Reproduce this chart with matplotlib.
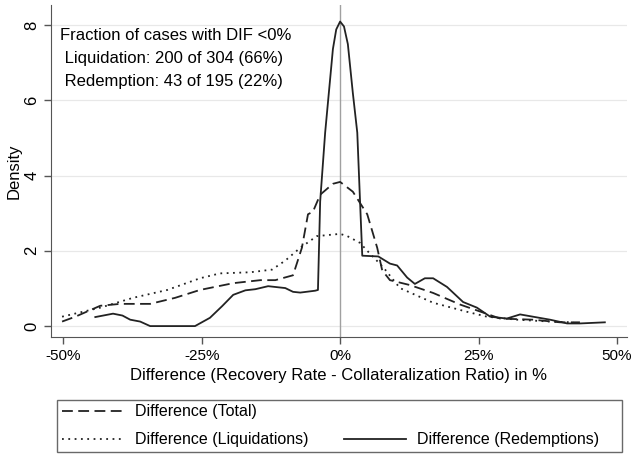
import numpy as np
import matplotlib.pyplot as plt

plt.rcParams['font.family'] = ['Liberation Sans', 'DejaVu Sans']

# density curves (x as fraction, y density)
red_x = [-0.442, -0.410, -0.393, -0.379, -0.361, -0.343, -0.262, -0.235, -0.213, -0.193,
         -0.171, -0.153, -0.130, -0.099, -0.085, -0.072, -0.045, -0.040, -0.036, -0.027,
         -0.013, -0.007, 0.0, 0.007, 0.014, 0.023, 0.031, 0.036, 0.040, 0.069, 0.090,
         0.103, 0.121, 0.135, 0.153, 0.168, 0.193, 0.222, 0.247, 0.271, 0.301, 0.325,
         0.348, 0.379, 0.410, 0.433, 0.478]
red_y = [0.24, 0.33, 0.28, 0.17, 0.12, 0.0, 0.0, 0.22, 0.53, 0.83,
         0.95, 0.98, 1.06, 1.01, 0.91, 0.89, 0.94, 0.96, 3.31, 5.14,
         7.36, 7.88, 8.09, 7.96, 7.49, 6.19, 5.14, 3.31, 1.87, 1.85, 1.66,
         1.61, 1.29, 1.12, 1.27, 1.27, 1.04, 0.64, 0.49, 0.25, 0.20, 0.31,
         0.25, 0.17, 0.07, 0.07, 0.10]

tot_x = [-0.502, -0.478, -0.433, -0.397, -0.343, -0.298, -0.253, -0.193, -0.144, -0.117,
         -0.085, -0.069, -0.058, -0.049, -0.036, -0.013, 0.0, 0.023, 0.049, 0.067,
         0.076, 0.090, 0.126, 0.168, 0.217, 0.258, 0.289, 0.348, 0.397, 0.433]
tot_y = [0.12, 0.25, 0.54, 0.59, 0.59, 0.75, 0.96, 1.14, 1.22, 1.22,
         1.35, 2.08, 2.97, 3.04, 3.49, 3.78, 3.83, 3.57, 2.97, 2.08,
         1.48, 1.22, 1.09, 0.88, 0.57, 0.36, 0.20, 0.17, 0.10, 0.10]

liq_x = [-0.502, -0.433, -0.374, -0.312, -0.253, -0.217, -0.162, -0.123, -0.099, -0.072,
         -0.042, 0.0, 0.013, 0.036, 0.049, 0.078, 0.108, 0.168, 0.229, 0.265,
         0.319, 0.379, 0.421]
liq_y = [0.25, 0.49, 0.75, 0.96, 1.27, 1.40, 1.43, 1.50, 1.74, 2.08,
         2.39, 2.45, 2.39, 2.21, 2.00, 1.56, 1.01, 0.62, 0.38, 0.25,
         0.17, 0.12, 0.10]

x_ticks = [-0.5, -0.25, 0, 0.25, 0.5]
x_ticklabels = ['-50%', '-25%', '0%', '25%', '50%']
y_ticks = [0, 2, 4, 6, 8]
notes = ['Fraction of cases with DIF <0%',
         ' Liquidation: 200 of 304 (66%)',
         ' Redemption: 43 of 195 (22%)']

fig = plt.figure(figsize=(6.31, 4.54), dpi=100)
ax = fig.add_axes([51/631, 1-337/454, 576/631, 332/454])

ax.axvline(0, color='#a0a0a0', lw=1, zorder=1)
ax.plot(tot_x, tot_y, color='#222222', lw=1.3, ls=(0, (6, 3)), label='Difference (Total)')
ax.plot(liq_x, liq_y, color='#222222', lw=1.3, ls=(0, (1, 2.5)), label='Difference (Liquidations)')
ax.plot(red_x, red_y, color='#222222', lw=1.3, ls='-', label='Difference (Redemptions)')

ax.set_xlim(-0.522, 0.518)
ax.set_ylim(-0.29, 8.53)
ax.set_xticks(x_ticks)
ax.set_xticklabels(x_ticklabels, fontsize=11)
ax.set_yticks(y_ticks)
ax.set_yticklabels([str(v) for v in y_ticks], fontsize=12, rotation=90, va='center')
ax.grid(axis='y', color='#e8e8e8', lw=0.9)
ax.set_axisbelow(True)
for s in ['top', 'right']:
    ax.spines[s].set_visible(False)
for s in ['left', 'bottom']:
    ax.spines[s].set_color('#555555')
ax.tick_params(colors='#555555', labelcolor='black', length=5, width=1)
ax.set_xlabel('Difference (Recovery Rate - Collateralization Ratio) in %', fontsize=12, labelpad=4)
ax.set_ylabel('Density', fontsize=12, labelpad=2)

for i, t in enumerate(notes):
    ax.text(-0.505, 7.72 - i*0.61, t, fontsize=12, va='center', ha='left')

# legend like stata: blank slot so redemptions sits in second row
h, l = ax.get_legend_handles_labels()
blank = plt.Line2D([], [], color='none')
leg = fig.legend([h[0], h[1], blank, h[2]], [l[0], l[1], '', l[2] + '    '], ncol=2,
                 loc='lower left', bbox_to_anchor=(57/631, 2/454, 565/631, 54/454),
                 mode='expand', fontsize=11.5, frameon=True, fancybox=False,
                 edgecolor='#444444', handlelength=3.9, borderaxespad=0,
                 labelspacing=0.8, borderpad=0.3, handletextpad=0.7)
leg.get_frame().set_linewidth(1)

fig.savefig('out.png', dpi=100)
